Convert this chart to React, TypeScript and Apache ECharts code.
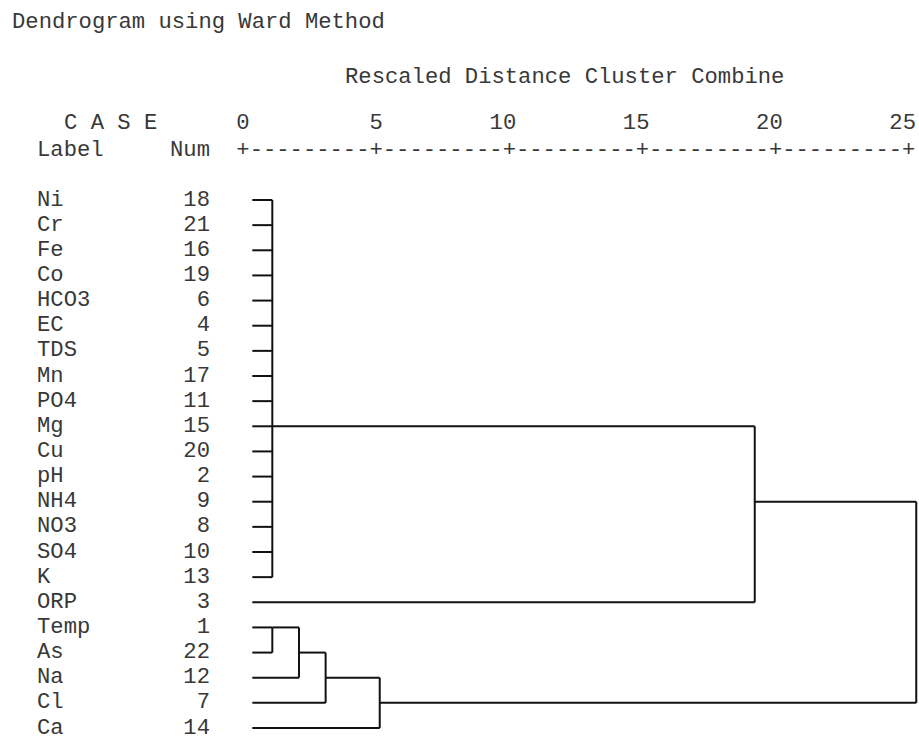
import React, { useEffect, useRef } from 'react';
import * as echarts from 'echarts';

const caseLabels = ['Ni', 'Cr', 'Fe', 'Co', 'HCO3', 'EC', 'TDS', 'Mn', 'PO4', 'Mg', 'Cu', 'pH', 'NH4', 'NO3', 'SO4', 'K', 'ORP', 'Temp', 'As', 'Na', 'Cl', 'Ca'];
const caseNums = [18, 21, 16, 19, 6, 4, 5, 17, 11, 15, 20, 2, 9, 8, 10, 13, 3, 1, 22, 12, 7, 14];
const xTicks = [0, 5, 10, 15, 20, 25];

// Leaves are 0..21; merge k creates cluster id 22 + k
const mergeChildren = [
  [0, 1, 2, 3, 4, 5, 6, 7, 8, 9, 10, 11, 12, 13, 14, 15], // 22
  [22, 16], // 23
  [17, 18], // 24
  [24, 19], // 25
  [25, 20], // 26
  [26, 21], // 27
  [23, 27], // 28
];
const mergeHeights = [1.1, 19.2, 1.1, 2.1, 3.1, 5.13, 25.26];
// row at which each merged cluster's connector leaves
const mergeRows = [9, 12, 17, 18, 19, 20, 16];

const LEAF_START = 0.35;
const FONT = "'Courier New', 'Liberation Mono', monospace";
const FS = 22.2;
const TXT = '#383838';

function buildSegments() {
  const nLeaves = caseLabels.length;
  const height = (id: number) => (id < nLeaves ? LEAF_START : mergeHeights[id - nLeaves]);
  const row = (id: number) => (id < nLeaves ? id : mergeRows[id - nLeaves]);
  const segs: number[][] = [];
  mergeChildren.forEach((children, k) => {
    const h = mergeHeights[k];
    const rows = children.map(row);
    segs.push([h, Math.min(...rows), h, Math.max(...rows)]);
    children.forEach((c) => {
      segs.push([height(c), row(c), h, row(c)]);
    });
  });
  return segs;
}

export default function App() {
  const ref = useRef<HTMLDivElement>(null);
  useEffect(() => {
    document.body.style.margin = '0';
    if (!ref.current) return;
    const chart = echarts.init(ref.current, null, { renderer: 'svg' });
    const segments = buildSegments();
    const ruler = '+' + xTicks.slice(1).map(() => '-'.repeat(9) + '+').join('');
    const txt = (text: string, x: number, y: number, align = 'left') => ({
      type: 'text',
      x,
      y,
      style: { text, fontFamily: FONT, fontSize: FS, fill: TXT, align, verticalAlign: 'middle' },
    });
    const option: any = {
      animation: false,
      backgroundColor: '#fff',
      grid: { left: 243, right: 9, top: 200, bottom: 8, containLabel: false },
      xAxis: {
        type: 'value',
        min: 0,
        max: 25,
        interval: 5,
        position: 'top',
        offset: 50,
        axisLine: { show: false },
        axisTick: { show: false },
        splitLine: { show: false },
        axisLabel: {
          margin: 27,
          verticalAlign: 'middle',
          align: 'right',
          padding: [0, -6.67, 0, 0],
          fontFamily: FONT,
          fontSize: FS,
          color: TXT,
          showMinLabel: true,
          showMaxLabel: true,
        },
      },
      yAxis: [
        {
          type: 'category',
          data: caseLabels,
          inverse: true,
          boundaryGap: false,
          position: 'left',
          offset: 0,
          axisLine: { show: false },
          axisTick: { show: false },
          splitLine: { show: false },
          axisLabel: { interval: 0, align: 'left', margin: 206, fontFamily: FONT, fontSize: FS, color: TXT },
        },
        {
          type: 'category',
          data: caseNums.map(String),
          inverse: true,
          boundaryGap: false,
          position: 'left',
          offset: 0,
          axisLine: { show: false },
          axisTick: { show: false },
          splitLine: { show: false },
          axisLabel: { interval: 0, align: 'right', margin: 33, fontFamily: FONT, fontSize: FS, color: TXT },
        },
      ],
      series: [
        {
          type: 'custom',
          coordinateSystem: 'cartesian2d',
          xAxisIndex: 0,
          yAxisIndex: 0,
          clip: false,
          encode: { x: [0, 2], y: [1, 3] },
          data: segments,
          renderItem: (params: any, api: any) => {
            const p1 = api.coord([api.value(0), api.value(1)]);
            const p2 = api.coord([api.value(2), api.value(3)]);
            return {
              type: 'line',
              shape: { x1: p1[0], y1: p1[1], x2: p2[0], y2: p2[1] },
              style: { stroke: '#111', lineWidth: 2 },
            };
          },
        },
      ],
    };
    chart.setOption(option);
    const x0 = chart.convertToPixel({ xAxisIndex: 0 }, xTicks[0]) as number;
    const x1 = chart.convertToPixel({ xAxisIndex: 0 }, xTicks[1]) as number;
    const charW = (x1 - x0) / 10;
    chart.setOption({
      graphic: [
        txt('Dendrogram using Ward Method', 12, 22),
        txt('Rescaled Distance Cluster Combine', 345, 77),
        txt('C A S E', 64, 123),
        txt('Label', 37, 150),
        txt('Num', 210, 150, 'right'),
        txt(ruler, x0 - charW / 2, 150),
      ],
    });
    return () => chart.dispose();
  }, []);
  return <div ref={ref} style={{ width: 919, height: 739 }} />;
}
